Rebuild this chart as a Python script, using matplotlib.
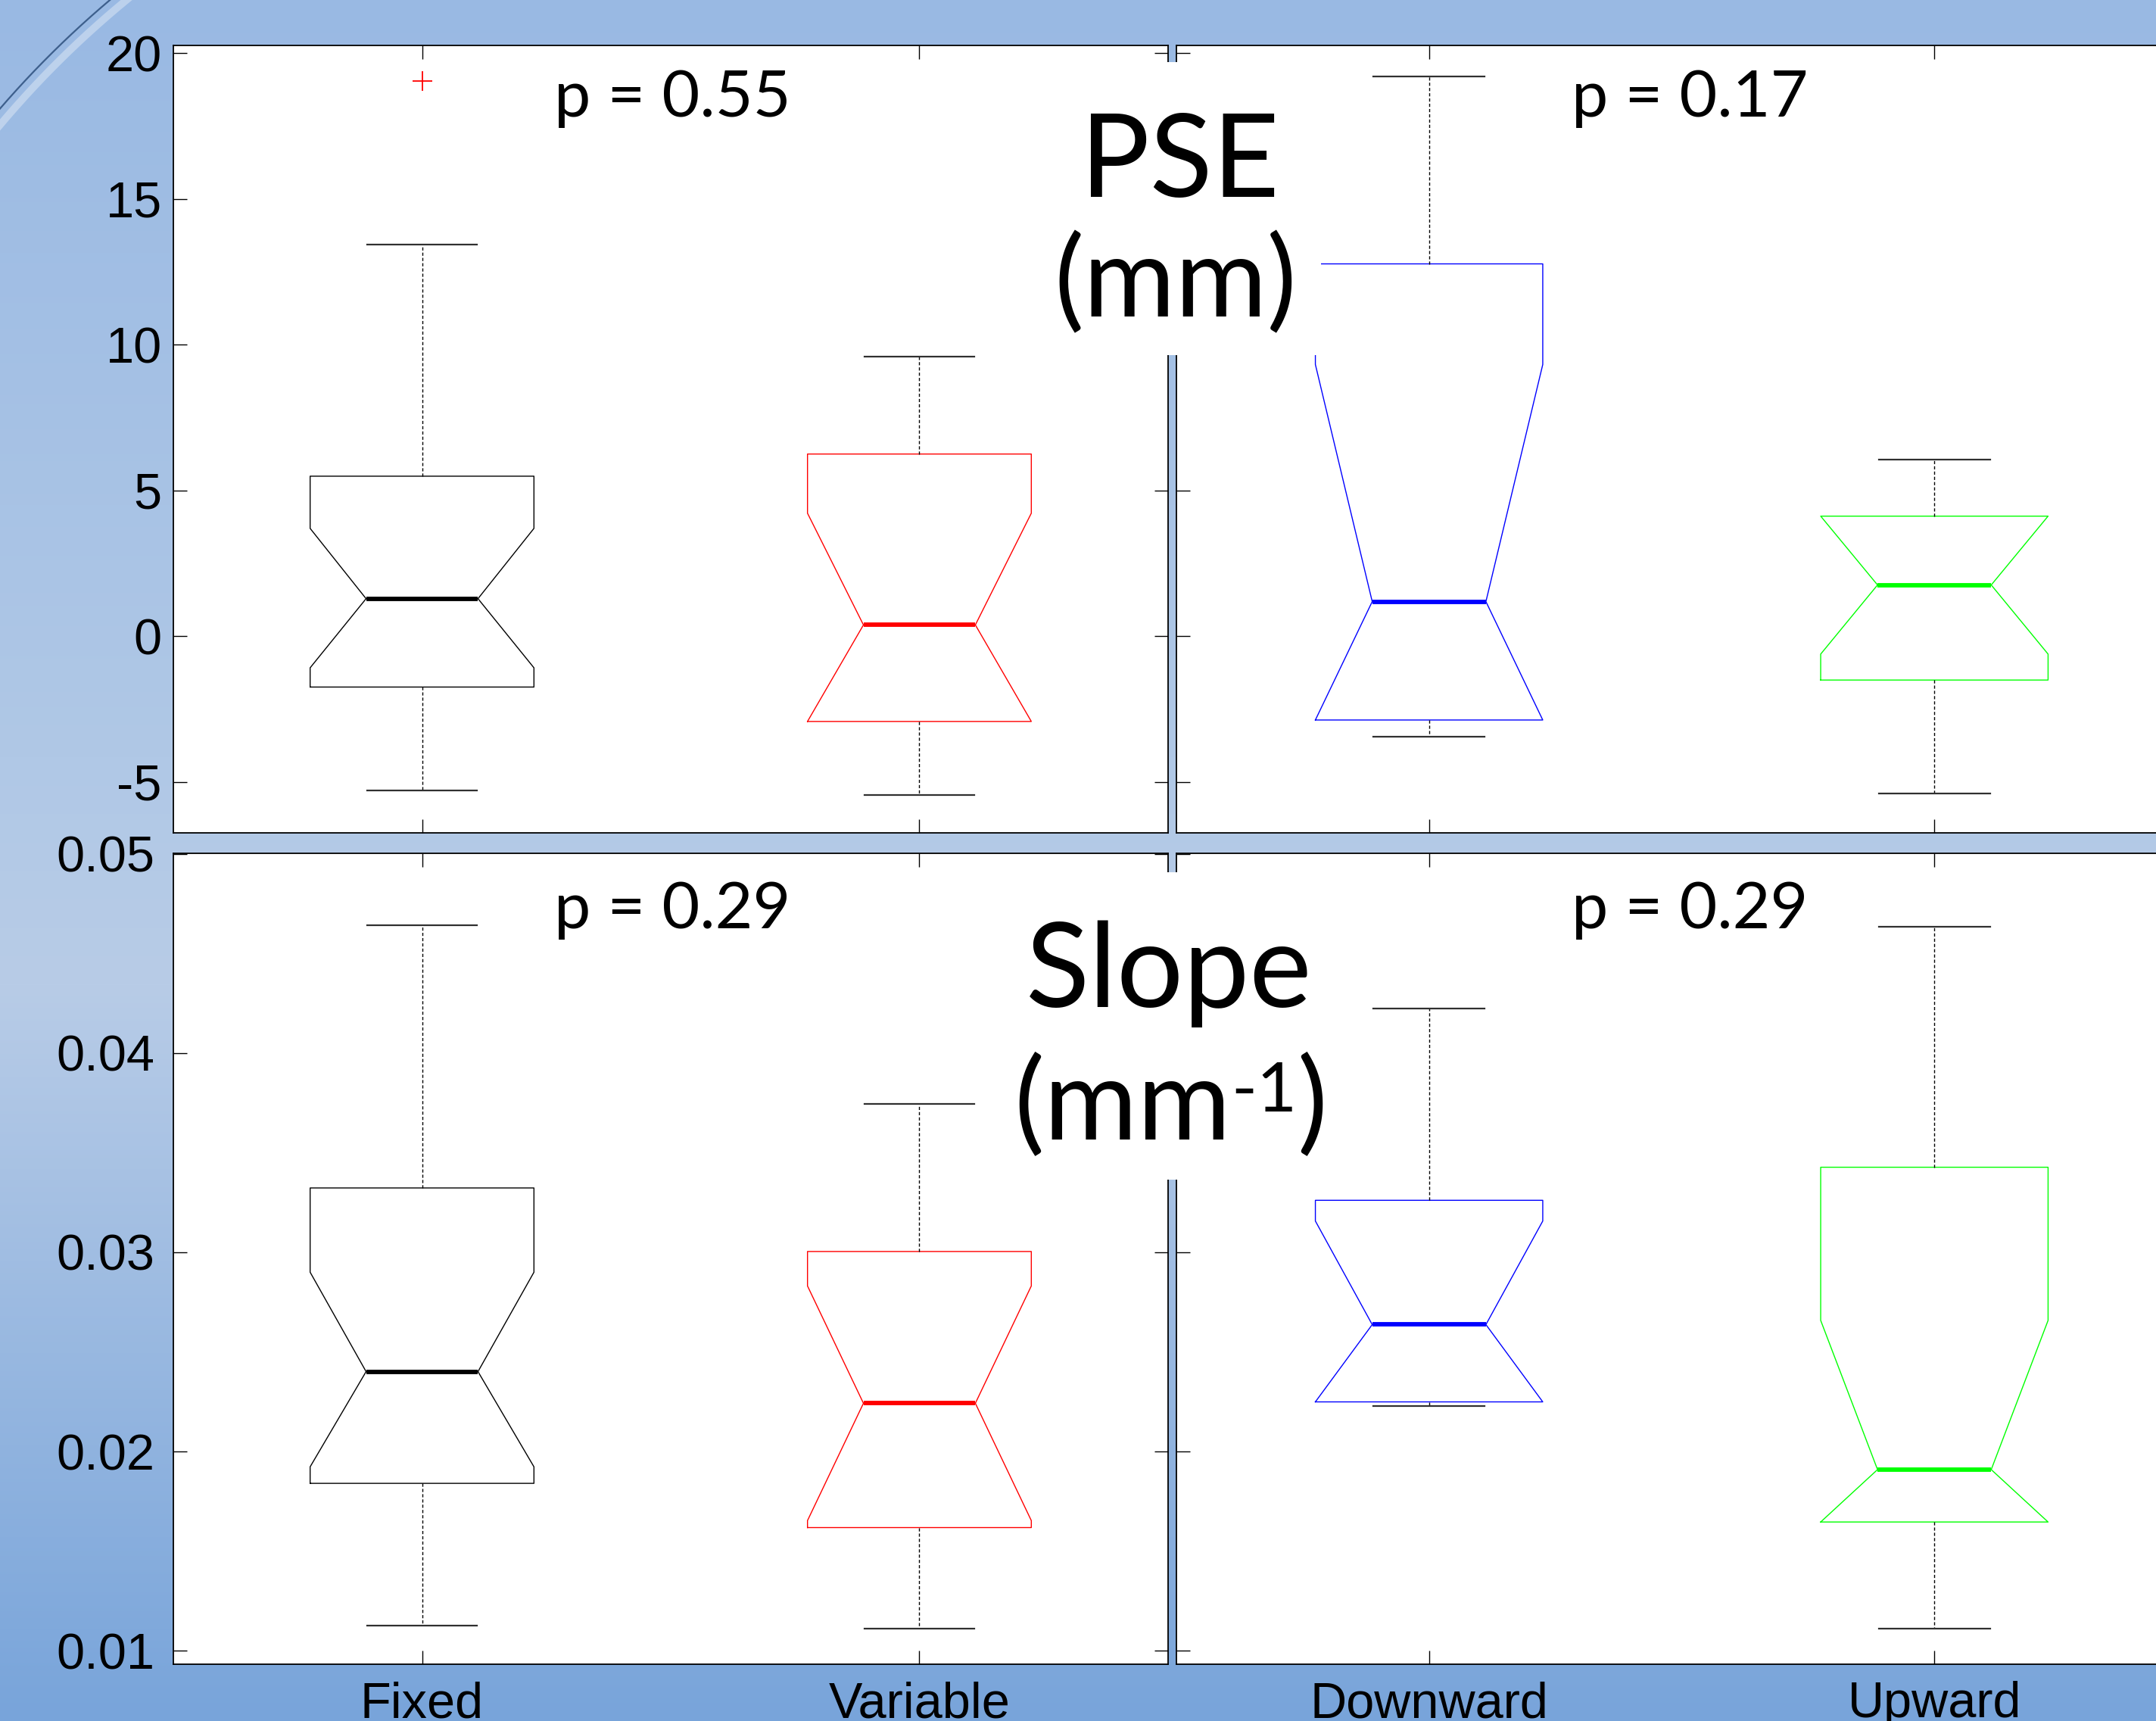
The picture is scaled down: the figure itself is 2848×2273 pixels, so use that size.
import numpy as np
import matplotlib
matplotlib.use('Agg')
import matplotlib.pyplot as plt
from matplotlib.patches import Rectangle

W, H = 2848, 2273

groups_left = ['Fixed', 'Variable']
groups_right = ['Downward', 'Upward']
colors_left = ['#000000', '#ff0000']
colors_right = ['#0000ff', '#00ff00']

# each box: whisker low, q1, notch low, median, notch high, q3, whisker high
pse_fixed = [-5.28, -1.74, -1.08, 1.29, 3.70, 5.49, 13.43]
pse_variable = [-5.43, -2.92, -2.92, 0.39, 4.22, 6.25, 9.60]
pse_downward = [-3.44, -2.87, -2.87, 1.19, 9.32, 12.77, 19.20]
pse_upward = [-5.38, -1.50, -0.61, 1.76, 4.12, 4.12, 6.06]
pse_fixed_outliers = [19.05]

slope_fixed = [0.01126, 0.01840, 0.01923, 0.02401, 0.02900, 0.03323, 0.04640]
slope_variable = [0.01112, 0.01618, 0.01653, 0.02242, 0.02831, 0.03004, 0.03746]
slope_downward = [0.02228, 0.02249, 0.02249, 0.02637, 0.03157, 0.03261, 0.04224]
slope_upward = [0.01112, 0.01646, 0.01646, 0.01909, 0.02658, 0.03427, 0.04633]

p_values = ['0.55', '0.17', '0.29', '0.29']
pse_ticks = [-5, 0, 5, 10, 15, 20]
slope_ticks = [0.01, 0.02, 0.03, 0.04, 0.05]

plt.rcParams['font.family'] = ['Liberation Sans', 'DejaVu Sans']
TXT = ['Lato', 'DejaVu Sans']


def fx(px):
    return px / W


def fy(py):
    return 1 - py / H


def stats(vals, fliers=()):
    lo, q1, cilo, med, cihi, q3, hi = vals
    return dict(whislo=lo, q1=q1, cilo=cilo, med=med, cihi=cihi,
                q3=q3, whishi=hi, fliers=list(fliers))


def draw_box(ax, pos, vals, color, fliers=()):
    ax.bxp([stats(vals, fliers)], positions=[pos], widths=0.45,
           capwidths=0.22, shownotches=True, manage_ticks=False,
           boxprops=dict(color=color, lw=1.0),
           medianprops=dict(color=color, lw=4.2, solid_capstyle='butt'),
           whiskerprops=dict(color='k', lw=1.0, ls=(0, (3, 2))),
           capprops=dict(color='#303030', lw=1.6),
           flierprops=dict(marker='+', markeredgecolor='#ff0000', ms=19,
                           mew=1.3, ls='none'))


fig = plt.figure(figsize=(W / 100, H / 100), dpi=100)

# slide background
bg = fig.add_axes([0, 0, 1, 1], zorder=-10)
ys = np.array([0, 1000, 1300, 2273])
cols = np.array([[153, 185, 227], [176, 200, 230], [184, 204, 231],
                 [120, 164, 218]]) / 255
yy = np.arange(H)
grad = np.stack([np.interp(yy, ys, cols[:, k]) for k in range(3)], axis=1)
bg.imshow(grad[:, None, :], extent=[0, W, H, 0], aspect='auto')
# corner arc of the slide design, only in the top-left corner
t = np.linspace(np.pi, 1.5 * np.pi, 2000)
cx, cy, R = 980, 990, 1295
ax_arc = cx + R * np.cos(t)
ay_arc = cy + R * np.sin(t)
keep = (ax_arc < 260) & (ay_arc < 260)
bg.plot(cx + (R - 14) * np.cos(t[keep]), cy + (R - 14) * np.sin(t[keep]),
        color='white', lw=7, alpha=0.35)
bg.plot(ax_arc[keep], ay_arc[keep], color='#3d5f8c', lw=1.6)
bg.set_xlim(0, W)
bg.set_ylim(H, 0)
bg.axis('off')

top_y, mid1, mid2, bot_y = 60, 1100, 1127, 2198
left_x = (229, 1543)
right_x = (1554, 2889)

axes = {}
for row, (y0, y1) in enumerate([(top_y, mid1), (mid2, bot_y)]):
    for col, (x0, x1) in enumerate([left_x, right_x]):
        ax = fig.add_axes([fx(x0), fy(y1), (x1 - x0) / W, (y1 - y0) / H])
        axes[row, col] = ax

for (row, col), ax in axes.items():
    ax.set_facecolor('white')
    ax.set_xlim(0.5, 2.5)
    if row == 0:
        ax.set_ylim(-6.74, 20.26)
        ax.set_yticks(pse_ticks)
        ax.set_yticklabels(['%g' % v for v in pse_ticks])
        ypad = 11
    else:
        ax.set_ylim(0.00932, 0.05003)
        ax.set_yticks(slope_ticks)
        ax.set_yticklabels(['%g' % v for v in slope_ticks])
        ypad = 18
    ax.set_xticks([1, 2])
    if row == 1:
        ax.set_xticklabels(groups_left if col == 0 else groups_right)
    ax.tick_params(direction='in', length=13, width=1.0, top=True,
                   right=True, labelsize=48, colors='k')
    ax.tick_params(axis='y', pad=ypad, labelleft=(col == 0))
    ax.tick_params(axis='x', pad=16, labelbottom=(row == 1))
    for s in ax.spines.values():
        s.set_linewidth(1.3)
        s.set_color('k')

# boxes
draw_box(axes[0, 0], 1, pse_fixed, colors_left[0], pse_fixed_outliers)
draw_box(axes[0, 0], 2, pse_variable, colors_left[1])
draw_box(axes[0, 1], 1, pse_downward, colors_right[0])
draw_box(axes[0, 1], 2, pse_upward, colors_right[1])
draw_box(axes[1, 0], 1, slope_fixed, colors_left[0])
draw_box(axes[1, 0], 2, slope_variable, colors_left[1])
draw_box(axes[1, 1], 1, slope_downward, colors_right[0])
draw_box(axes[1, 1], 2, slope_upward, colors_right[1])

# p values
for (px, py), p in zip([(732, 154), (2076, 154), (732, 1226), (2076, 1226)],
                       p_values):
    fig.text(fx(px), fy(py), 'p = ' + p, family=TXT, fontsize=62,
             ha='left', va='baseline', zorder=6)

# white boxes behind the centre labels
for y0, y1 in [(82, 469), (1152, 1558)]:
    fig.add_artist(Rectangle((fx(1340), fy(y1)), (1745 - 1340) / W,
                             (y1 - y0) / H, transform=fig.transFigure,
                             facecolor='white', edgecolor='none', zorder=5))

fig.text(fx(1558), fy(260), 'PSE', family=TXT, fontsize=110, ha='center',
         va='baseline', zorder=6)
fig.text(fx(1553), fy(418), '(mm)', family=TXT, fontsize=106, ha='center',
         va='baseline', zorder=6)
fig.text(fx(1544), fy(1330), 'Slope', family=TXT, fontsize=112, ha='center',
         va='baseline', zorder=6)

# (mm^-1) built from pieces so the superscript keeps a plain hyphen
renderer = fig.canvas.get_renderer()
t1 = fig.text(0, fy(1504), '(mm', family=TXT, fontsize=108, va='baseline',
              zorder=6)
t2 = fig.text(0, fy(1468), '-1', family=TXT, fontsize=66, va='baseline',
              zorder=6)
t3 = fig.text(0, fy(1504), ')', family=TXT, fontsize=108, va='baseline',
              zorder=6)
w1 = t1.get_window_extent(renderer).width
w2 = t2.get_window_extent(renderer).width
w3 = t3.get_window_extent(renderer).width
x0 = 1546 - (w1 + w2 + w3) / 2
t1.set_x(fx(x0))
t2.set_x(fx(x0 + w1))
t3.set_x(fx(x0 + w1 + w2))

fig.savefig('out.png', dpi=100)
